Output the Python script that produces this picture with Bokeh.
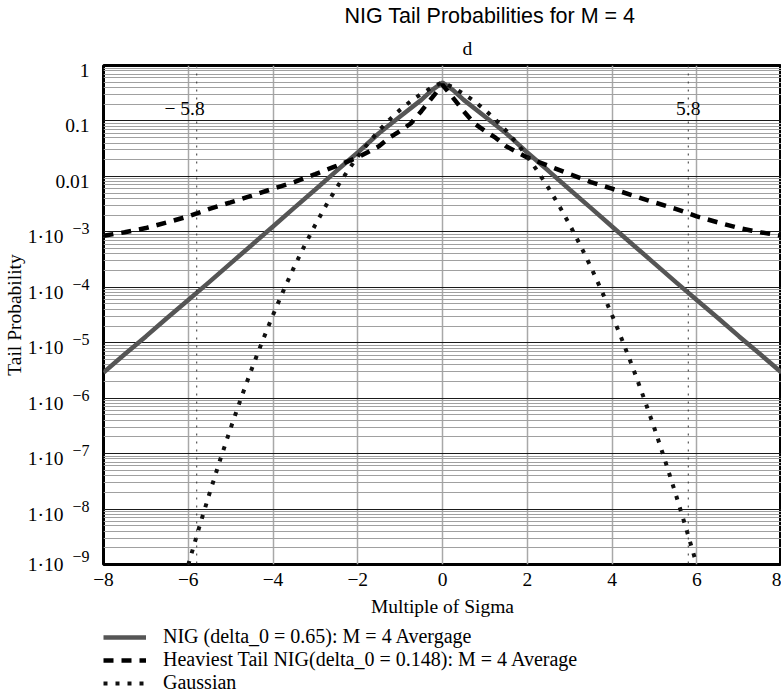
from bokeh.plotting import figure
from bokeh.models import (FixedTicker, Label, Legend, LegendItem, Span, Range1d,
                          LogAxis, Title)
from bokeh.layouts import column
from bokeh.embed import file_html
from bokeh.resources import INLINE

# ---------------- data ----------------
# NIG (delta_0 = 0.65), one side (symmetric about 0)
nig_x = [0, 0.25, 0.5, 1.0, 1.5, 2.0, 2.5, 3.0, 3.5, 4.0, 4.5, 5.0, 5.5, 6.0, 6.5, 7.0, 7.5, 8.0]
nig_p = [0.49, 0.36, 0.24, 0.12, 0.06, 0.027, 0.0126, 5.8e-3, 2.7e-3, 1.25e-3, 5.8e-4,
         2.7e-4, 1.25e-4, 5.9e-5, 2.8e-5, 1.3e-5, 6.2e-6, 2.9e-6]

# Heaviest tail NIG (delta_0 = 0.148)
heavy_x = [0, 0.25, 0.5, 0.75, 1.0, 1.25, 1.5, 2.0, 2.5, 3.0, 3.5, 4.0, 4.5, 5.0, 5.5,
           6.0, 6.5, 7.0, 7.5, 8.0]
heavy_p = [0.45, 0.26, 0.15, 0.09, 0.066, 0.05, 0.035, 0.022, 0.0155, 0.011, 7.9e-3,
           6.0e-3, 4.5e-3, 3.4e-3, 2.6e-3, 1.9e-3, 1.48e-3, 1.17e-3, 9.8e-4, 8.5e-4]

# Gaussian
gauss_x = [0, 0.25, 0.5, 0.75, 1.0, 1.25, 1.5, 1.75, 2.0, 2.25, 2.5, 2.75, 3.0, 3.25,
           3.5, 3.75, 4.0, 4.25, 4.5, 4.75, 5.0, 5.25, 5.5, 5.75, 6.0]
gauss_p = [0.5, 0.4013, 0.3085, 0.2266, 0.1587, 0.1056, 0.0668, 0.0401, 0.02275, 0.01222,
           0.00621, 0.00298, 0.00135, 5.77e-4, 2.33e-4, 8.84e-5, 3.17e-5, 1.07e-5, 3.40e-6,
           1.02e-6, 2.87e-7, 7.6e-8, 1.90e-8, 4.46e-9, 9.87e-10]

x_ticks = [-8, -6, -4, -2, 0, 2, 4, 6, 8]
x_tick_labels = ["\u22128", "\u22126", "\u22124", "\u22122", "0", "2", "4", "6", "8"]

y_ticks = [1, 0.1, 0.01, 1e-3, 1e-4, 1e-5, 1e-6, 1e-7, 1e-8, 1e-9]
y_plain_labels = ["1", "0.1", "0.01"]          # for the first three decades
y_base_label = "1\u00b710"                       # for 1e-3 ... 1e-9
y_exp_labels = ["\u22123", "\u22124", "\u22125", "\u22126", "\u22127", "\u22128", "\u22129"]

marker_x = [-5.8, 5.8]
marker_labels = ["\u2212 5.8", "5.8"]

series_labels = ["NIG (delta_0 = 0.65): M = 4 Avergage",
                 "Heaviest Tail NIG(delta_0 = 0.148): M = 4 Average",
                 "Gaussian"]

title_text = "NIG Tail Probabilities for M = 4"
top_text = "d"
x_title = "Multiple of Sigma"
y_title = "Tail Probability"


def mirror(xs, ps):
    fx = [-v for v in reversed(xs[1:])] + list(xs)
    fp = list(reversed(ps[1:])) + list(ps)
    return fx, fp


SERIF = "Liberation Serif"
SANS = "Liberation Sans"
PX_PER_DECADE = 500 / 9.0

p = figure(width=781, height=625, y_axis_type="log",
           x_range=Range1d(-8, 8), y_range=Range1d(1e-9, 1),
           output_backend="svg", toolbar_location=None,
           min_border_left=102, min_border_right=0, min_border_top=64, min_border_bottom=61)

p.background_fill_color = "white"
p.border_fill_color = "white"
p.outline_line_color = "black"
p.outline_line_width = 3

# titles above the frame
p.add_layout(Title(text=top_text, align="left", offset=359, vertical_align="middle",
                   text_font=SERIF, text_font_size="19.5px", text_font_style="normal",
                   text_color="black", standoff=12), "above")
p.title.text = title_text
p.title.align = "left"
p.title.offset = 241
p.title.vertical_align = "middle"
p.title.text_font = SANS
p.title.text_font_size = "21.5px"
p.title.text_font_style = "normal"
p.title.text_color = "black"
p.title.standoff = 4

# grids
p.xgrid.ticker = FixedTicker(ticks=x_ticks)
p.xgrid.grid_line_color = "#a8a8a8"
p.xgrid.grid_line_width = 1.5

minor = [m * 10.0 ** e for e in range(-9, 0) for m in range(2, 10)]
p.ygrid.ticker = FixedTicker(ticks=y_ticks, minor_ticks=minor)
p.ygrid.grid_line_color = "#1a1a1a"
p.ygrid.grid_line_width = 1.2
p.ygrid.minor_grid_line_color = "#a0a0a0"
p.ygrid.minor_grid_line_width = 1


def no_ticks(ax):
    ax.major_tick_line_color = None
    ax.minor_tick_line_color = None
    ax.major_tick_out = 0
    ax.major_tick_in = 0
    ax.minor_tick_out = 0
    ax.minor_tick_in = 0
    ax.axis_line_color = None


# x axis
xa = p.xaxis[0]
xa.ticker = FixedTicker(ticks=x_ticks)
xa.major_label_overrides = {t: l for t, l in zip(x_ticks, x_tick_labels)}
no_ticks(xa)
xa.major_label_text_font = SERIF
xa.major_label_text_font_size = "19.5px"
xa.major_label_text_color = "black"
xa.major_label_standoff = 8
xa.axis_label = x_title
xa.axis_label_text_font = SERIF
xa.axis_label_text_font_size = "19.5px"
xa.axis_label_text_font_style = "normal"
xa.axis_label_text_color = "black"
xa.axis_label_standoff = 7


def shifted(v, px):
    # tick position moved by px screen pixels (positive = up) on the log axis
    return v * 10 ** (px / PX_PER_DECADE)


def style_axis(ax, size):
    no_ticks(ax)
    ax.major_label_text_font = SERIF
    ax.major_label_text_font_size = size
    ax.major_label_text_color = "black"


# mantissa positions (slightly below the grid line; the last one sits on the frame edge)
base_ticks = [shifted(v, -5) for v in y_ticks[3:-1]] + [y_ticks[-1]]
exp_ticks = [shifted(b, 8) for b in base_ticks]
plain_ticks = [shifted(v, -5) for v in y_ticks[:3]]

# inner axis: exponents of 1·10^-n
ax_exp = p.yaxis[0]
ax_exp.ticker = FixedTicker(ticks=exp_ticks)
ax_exp.major_label_overrides = {t: l for t, l in zip(exp_ticks, y_exp_labels)}
style_axis(ax_exp, "16px")
ax_exp.major_label_standoff = 14

# middle axis: plain labels 1, 0.1, 0.01
ax_plain = LogAxis(ticker=FixedTicker(ticks=plain_ticks),
                   major_label_overrides={t: l for t, l in zip(plain_ticks, y_plain_labels)})
style_axis(ax_plain, "19.5px")
ax_plain.major_label_standoff = -20
p.add_layout(ax_plain, "left")

# outer axis: mantissa 1·10 and the axis title
ax_base = LogAxis(ticker=FixedTicker(ticks=base_ticks),
                  major_label_overrides={t: y_base_label for t in base_ticks})
style_axis(ax_base, "19.5px")
ax_base.major_label_standoff = -11
ax_base.axis_label = y_title
ax_base.axis_label_text_font = SERIF
ax_base.axis_label_text_font_size = "19.5px"
ax_base.axis_label_text_font_style = "normal"
ax_base.axis_label_text_color = "black"
ax_base.axis_label_standoff = 0
p.add_layout(ax_base, "left")

# curves
nx, np_ = mirror(nig_x, nig_p)
hx, hp = mirror(heavy_x, heavy_p)
gx, gp = mirror(gauss_x, gauss_p)

nig_style = dict(line_color="#555555", line_width=4.5)
heavy_style = dict(line_color="black", line_width=4.5, line_dash="10 8")
gauss_style = dict(line_color="#111111", line_width=4, line_dash="4 8")

p.line(nx, np_, **nig_style)
p.line(hx, hp, **heavy_style)
p.line(gx, gp, **gauss_style)

# marker lines at +/-5.8
for mx in marker_x:
    p.add_layout(Span(location=mx, dimension="height", line_color="#333333",
                      line_width=1, line_dash="2 6"))
p.add_layout(Label(x=marker_x[0], y=0.165, x_offset=8, text=marker_labels[0],
                   text_align="right", text_baseline="middle",
                   text_font=SERIF, text_font_size="19.5px", text_color="black"))
p.add_layout(Label(x=marker_x[1], y=0.165, text=marker_labels[1],
                   text_align="center", text_baseline="middle",
                   text_font=SERIF, text_font_size="19.5px", text_color="black"))

# ---------------- legend strip below ----------------
# the same series are drawn here, but the strip's ranges keep them out of view:
# only their legend samples are visible
q = figure(width=781, height=72, output_backend="svg", toolbar_location=None,
           x_range=Range1d(100, 101), y_range=Range1d(100, 101),
           min_border_left=100, min_border_right=0, min_border_top=0, min_border_bottom=0)
q.axis.visible = False
q.grid.visible = False
q.outline_line_color = None
q.background_fill_color = "white"
q.border_fill_color = "white"
l1 = q.line(nx, np_, **nig_style)
l2 = q.line(hx, hp, **heavy_style)
l3 = q.line(gx, gp, **gauss_style)
legend = Legend(items=[LegendItem(label=series_labels[0], renderers=[l1]),
                       LegendItem(label=series_labels[1], renderers=[l2]),
                       LegendItem(label=series_labels[2], renderers=[l3])],
                location="top_left", orientation="vertical",
                border_line_alpha=0, background_fill_alpha=0,
                padding=0, margin=0, spacing=0,
                glyph_width=43, glyph_height=18, label_height=18, label_standoff=17,
                label_text_font=SERIF, label_text_font_size="20px",
                label_text_color="black")
q.add_layout(legend, "center")

layout = column(p, q, spacing=0)
open("out.html", "w").write(file_html(layout, INLINE))
